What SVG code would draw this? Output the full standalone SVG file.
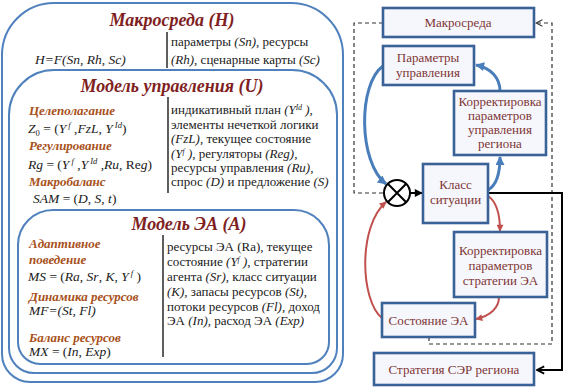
<svg xmlns="http://www.w3.org/2000/svg" width="565" height="387" viewBox="0 0 565 387" font-family="'Liberation Serif', 'Times New Roman', 'DejaVu Serif', serif">
<style>
text, tspan{font-family:'Liberation Serif','Times New Roman','DejaVu Serif',serif;}
.frame{fill:#ffffff;stroke:#4f81bd;stroke-width:2;}
.title{font-size:18px;font-weight:bold;font-style:italic;fill:#7f1f1f;text-anchor:middle;}
.sh{font-size:13px;font-weight:bold;font-style:italic;fill:#a8511a;}
.tx{font-size:13px;fill:#1a1a1a;}
.fm{font-size:13.5px;fill:#1a1a1a;}
.i{font-style:italic;}
.sup{font-size:8.5px;font-style:italic;}
.sups{font-size:7.5px;font-style:italic;}
.sub{font-size:8.5px;}
.sep{stroke:#1a1a1a;stroke-width:1.4;}
.box{fill:#f5f7fc;stroke:#3b6297;stroke-width:2.6;}
.lbl{font-size:13px;fill:#7f3535;text-anchor:middle;}
.blue{fill:none;stroke:#4a7ebb;stroke-width:3;}
.red{fill:none;stroke:#c0504d;stroke-width:2;}
.dash{fill:none;stroke:#333333;stroke-width:1.2;stroke-dasharray:4 3;}
.blk{fill:none;stroke:#000000;stroke-width:2;}
</style>
<defs>
<marker id="ab" viewBox="0 0 10 10" refX="9" refY="5" markerWidth="10" markerHeight="9" markerUnits="userSpaceOnUse" orient="auto"><path d="M0,0 L10,5 L0,10 Z" fill="#4a7ebb"/></marker>
<marker id="ar" viewBox="0 0 10 10" refX="9" refY="5" markerWidth="8" markerHeight="7" markerUnits="userSpaceOnUse" orient="auto"><path d="M0,0 L10,5 L0,10 Z" fill="#c0504d"/></marker>
<marker id="ak" viewBox="0 0 10 10" refX="9" refY="5" markerWidth="9" markerHeight="8" markerUnits="userSpaceOnUse" orient="auto"><path d="M0,0 L10,5 L0,10 Z" fill="#000000"/></marker>
<marker id="ao" viewBox="0 0 10 10" refX="9" refY="5" markerWidth="9" markerHeight="10" markerUnits="userSpaceOnUse" orient="auto"><path d="M1,1 L9,5 L1,9" fill="none" stroke="#000000" stroke-width="2"/></marker>
<marker id="ad" viewBox="0 0 10 10" refX="9" refY="5" markerWidth="8" markerHeight="9" markerUnits="userSpaceOnUse" orient="auto"><path d="M1,1 L9,5 L1,9" fill="none" stroke="#333333" stroke-width="1.3"/></marker>
</defs>

<g id="panel-macro">
<path class="frame" d="M54,3 H291 A52,52 0 0 1 343,55 V354 A28,28 0 0 1 315,382 H30 A28,28 0 0 1 2,354 V55 A52,52 0 0 1 54,3 Z"/>
<text class="title" x="172" y="26">Макросреда (H)</text>
<line class="sep" x1="167" y1="32" x2="167" y2="68"/>
<text class="fm i" x="35" y="64">H=F(Sn, Rh, Sc)</text>
<text class="tx" x="171" y="46">параметры <tspan class="i">(Sn)</tspan>, ресурсы</text>
<text class="tx" x="171" y="64"><tspan class="i">(Rh)</tspan>, сценарные карты <tspan class="i">(Sc)</tspan></text>
</g>

<g id="panel-control">
<path class="frame" d="M54,70 H292 A45,45 0 0 1 337,115 V348 A25,25 0 0 1 312,373 H34 A25,25 0 0 1 9,348 V115 A45,45 0 0 1 54,70 Z"/>
<text class="title" x="172" y="92">Модель управления (U)</text>
<line class="sep" x1="168" y1="97" x2="168" y2="193"/>
<text class="sh" x="29" y="115">Целеполагание</text>
<text class="fm" x="28" y="133"><tspan class="i">Z</tspan><tspan class="sub" dy="3">0</tspan><tspan dy="-3"> = (</tspan><tspan class="i">Y</tspan><tspan class="sup" dy="-5"> f</tspan><tspan dy="5"> ,</tspan><tspan class="i">FzL</tspan>, <tspan class="i">Y</tspan><tspan class="sup" dy="-5"> Id</tspan><tspan dy="5">)</tspan></text>
<text class="sh" x="29" y="150">Регулирование</text>
<text class="fm" x="28" y="169"><tspan class="i">Rg</tspan> = (<tspan class="i">Y</tspan><tspan class="sup" dy="-5"> f</tspan><tspan dy="5"> ,</tspan><tspan class="i">Y</tspan><tspan class="sup" dy="-5"> Id</tspan><tspan dy="5"> ,</tspan><tspan class="i">Ru</tspan>, Re<tspan class="i">g</tspan>)</text>
<text class="sh" x="29" y="186">Макробаланс</text>
<text class="fm" x="33" y="203"><tspan class="i">SAM</tspan> = (<tspan class="i">D</tspan>, <tspan class="i">S</tspan>, <tspan class="i">t</tspan>)</text>
<text class="tx" x="171" y="114">индикативный план <tspan class="i">(Y</tspan><tspan class="sups" dy="-4">Id</tspan><tspan class="i" dy="4"> )</tspan>,</text>
<text class="tx" x="171" y="128.5">элементы нечеткой логики</text>
<text class="tx" x="171" y="143"><tspan class="i">(FzL)</tspan>, текущее состояние</text>
<text class="tx" x="171" y="157.5"><tspan class="i">(Y</tspan><tspan class="sups" dy="-4">f</tspan><tspan class="i" dy="4"> )</tspan>, регуляторы <tspan class="i">(Reg)</tspan>,</text>
<text class="tx" x="171" y="171.5">ресурсы управления <tspan class="i">(Ru)</tspan>,</text>
<text class="tx" x="171" y="186">спрос <tspan class="i">(D)</tspan> и предложение <tspan class="i">(S)</tspan></text>
</g>

<g id="panel-agent">
<path class="frame" d="M53,210 H294 A35,35 0 0 1 329,245 V342 A22,22 0 0 1 307,364 H40 A22,22 0 0 1 18,342 V245 A35,35 0 0 1 53,210 Z"/>
<text class="title" x="189" y="230">Модель ЭА (A)</text>
<line class="sep" x1="163" y1="235" x2="163" y2="357"/>
<text class="sh" x="29" y="248">Адаптивное</text>
<text class="sh" x="29" y="264">поведение</text>
<text class="fm" x="28" y="281"><tspan class="i">MS</tspan> = (<tspan class="i">Ra</tspan>, <tspan class="i">Sr</tspan>, <tspan class="i">K</tspan>, <tspan class="i">Y</tspan><tspan class="sup" dy="-5"> f</tspan><tspan dy="5"> )</tspan></text>
<text class="sh" x="29" y="301">Динамика  ресурсов</text>
<text class="fm i" x="29" y="315">MF=(St, Fl)</text>
<text class="sh" x="29" y="342">Баланс ресурсов</text>
<text class="fm" x="29" y="356"><tspan class="i">MX</tspan> = (<tspan class="i">In</tspan>, <tspan class="i">Exp</tspan>)</text>
<text class="tx" x="167" y="251">ресурсы ЭА (Ra), текущее</text>
<text class="tx" x="167" y="266">состояние <tspan class="i">(Y</tspan><tspan class="sups" dy="-4">f</tspan><tspan class="i" dy="4"> )</tspan>, стратегии</text>
<text class="tx" x="167" y="281">агента <tspan class="i">(Sr)</tspan>, класс ситуации</text>
<text class="tx" x="167" y="296"><tspan class="i">(K)</tspan>, запасы ресурсов <tspan class="i">(St)</tspan>,</text>
<text class="tx" x="167" y="310.5">потоки ресурсов <tspan class="i">(Fl)</tspan>,  доход</text>
<text class="tx" x="167" y="325">ЭА <tspan class="i">(In)</tspan>, расход ЭА <tspan class="i">(Exp)</tspan></text>
</g>

<g id="connectors">
<path class="dash" d="M383,23 H354 V193 H383"/>
<path class="dash" d="M429,337 V344 H552 V23 H536" marker-end="url(#ad)"/>
<path class="blk" d="M488,193 H562 V370 H537" marker-end="url(#ao)"/>
<path class="blk" d="M410,193 H422" marker-end="url(#ak)"/>
<path class="blue" d="M383,66 C358,84 358,162 386,184" marker-end="url(#ab)"/>
<path class="blue" d="M488,190 C497,185 500,172 500,157" marker-end="url(#ab)"/>
<path class="blue" d="M500,91 C500,78 491,68 476,65" marker-end="url(#ab)"/>
<path class="red" d="M488,196 C497,202 500,215 500,231" marker-end="url(#ar)"/>
<path class="red" d="M499,297 C499,308 490,316 476,319" marker-end="url(#ar)"/>
<path class="red" d="M382,318 C360,300 358,226 386,202" marker-end="url(#ar)"/>
</g>

<g id="node-macro">
<rect class="box" x="383" y="8" width="151" height="29"/>
<text class="lbl" x="458" y="27">Макросреда</text>
</g>
<g id="node-params">
<rect class="box" x="383" y="46" width="91" height="39"/>
<text class="lbl" x="428" y="62">Параметры</text>
<text class="lbl" x="428" y="77">управления</text>
</g>
<g id="node-corr-control">
<rect class="box" x="454" y="91" width="92" height="64"/>
<text class="lbl" x="500" y="106">Корректировка</text>
<text class="lbl" x="500" y="120">параметров</text>
<text class="lbl" x="500" y="134">управления</text>
<text class="lbl" x="500" y="148">региона</text>
</g>
<g id="node-sum">
<circle cx="397" cy="193" r="13" fill="#ffffff" stroke="#000000" stroke-width="2"/>
<path d="M387.8,183.8 L406.2,202.2 M406.2,183.8 L387.8,202.2" stroke="#000000" stroke-width="2"/>
</g>
<g id="node-class">
<rect class="box" x="423" y="164" width="65" height="59"/>
<text class="lbl" x="455.5" y="189">Класс</text>
<text class="lbl" x="455.5" y="204">ситуации</text>
</g>
<g id="node-corr-agent">
<rect class="box" x="454" y="232" width="93" height="65"/>
<text class="lbl" x="500.5" y="255">Корректировка</text>
<text class="lbl" x="500.5" y="270">параметров</text>
<text class="lbl" x="500.5" y="285">стратегии ЭА</text>
</g>
<g id="node-state">
<rect class="box" x="382" y="303" width="93" height="34"/>
<text class="lbl" x="428.5" y="325">Состояние ЭА</text>
</g>
<g id="node-strategy">
<rect class="box" x="374" y="353" width="160" height="32"/>
<text class="lbl" x="454" y="374">Стратегия СЭР региона</text>
</g>
</svg>
